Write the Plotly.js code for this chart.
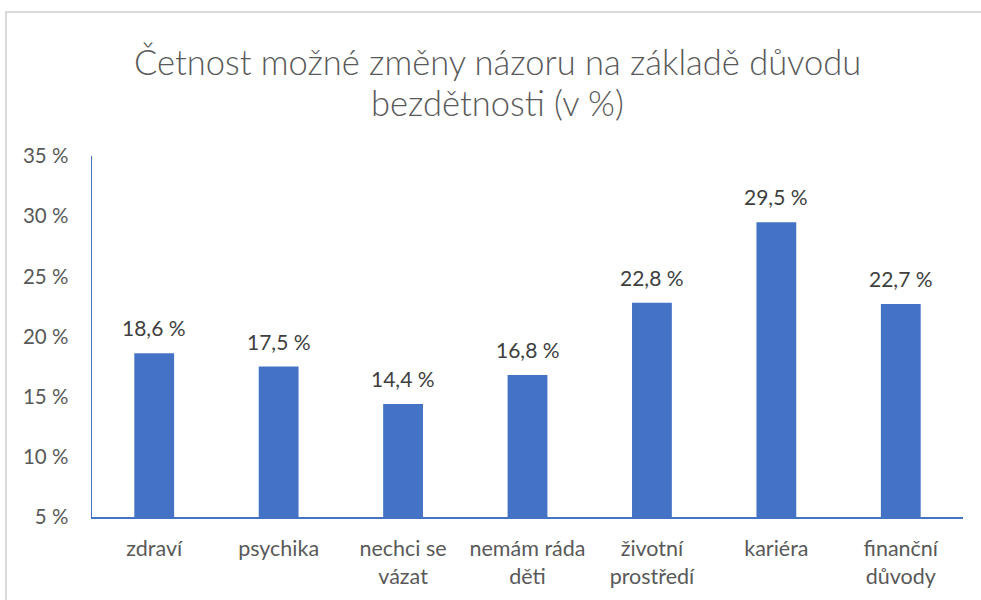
<!DOCTYPE html>
<html>
<head>
<meta charset="utf-8">
<script src="https://cdn.plot.ly/plotly-3.0.1.min.js"></script>
<style>
html,body{margin:0;padding:0;background:#fff;overflow:hidden;}
#frame{position:absolute;left:5px;top:11px;width:1000px;height:620px;border:2px solid #d9d9d9;box-sizing:border-box;}
#chart{position:absolute;left:0;top:0;width:981px;height:600px;}
</style>
</head>
<body>
<div id="frame"></div>
<div id="chart"></div>
<script>
const categories = ["zdraví","psychika","nechci se<br>vázat","nemám ráda<br>děti","životní<br>prostředí","kariéra","finanční<br>důvody"];
const values = [18.6, 17.5, 14.4, 16.8, 22.8, 29.5, 22.7];
const yTickVals = [5,10,15,20,25,30,35];
const yTickText = yTickVals.map(v => v + " %");
const labels = values.map(v => v.toFixed(1).replace(".", ",") + " %");
const titleLines = ["Četnost možné změny názoru na základě důvodu", "bezdětnosti (v %)"];

const FONT = "Lato, 'Open Sans', sans-serif";

const trace = {
  type: "bar",
  x: categories,
  y: values,
  marker: {color: "#4472C4"},
  hoverinfo: "none"
};

const annotations = categories.map((c, i) => ({
  x: c, y: values[i], xref: "x", yref: "y",
  text: labels[i], showarrow: false,
  yanchor: "bottom", yshift: 11,
  font: {family: FONT, size: 21, color: "#404040"}
}));

const titleY = [1.262, 1.147];
titleLines.forEach((t, i) => annotations.push({
  x: 0.465, y: titleY[i], xref: "paper", yref: "paper",
  xanchor: "center", yanchor: "middle",
  text: t, showarrow: false,
  font: {family: FONT, size: 34.5, color: "#595959", weight: 300}
}));

const layout = {
  width: 981, height: 600,
  paper_bgcolor: "rgba(0,0,0,0)",
  plot_bgcolor: "rgba(0,0,0,0)",
  margin: {l: 92, r: 18, t: 156, b: 83},
  bargap: 0.68,
  showlegend: false,
  xaxis: {
    type: "category",
    showline: true, linecolor: "#4472C4", linewidth: 1.5,
    ticks: "", showgrid: false, zeroline: false,
    tickfont: {family: FONT, size: 21.5, color: "#595959"},
    ticklabelstandoff: 12,
    fixedrange: true
  },
  yaxis: {
    range: [5, 35],
    tickvals: yTickVals, ticktext: yTickText,
    showline: true, linecolor: "#4472C4", linewidth: 1.5,
    ticks: "", showgrid: false, zeroline: false,
    tickfont: {family: FONT, size: 20.5, color: "#595959"},
    ticklabelstandoff: 18,
    fixedrange: true
  },
  annotations: annotations
};

Plotly.newPlot("chart", [trace], layout, {displayModeBar: false, staticPlot: true});
</script>
</body>
</html>
